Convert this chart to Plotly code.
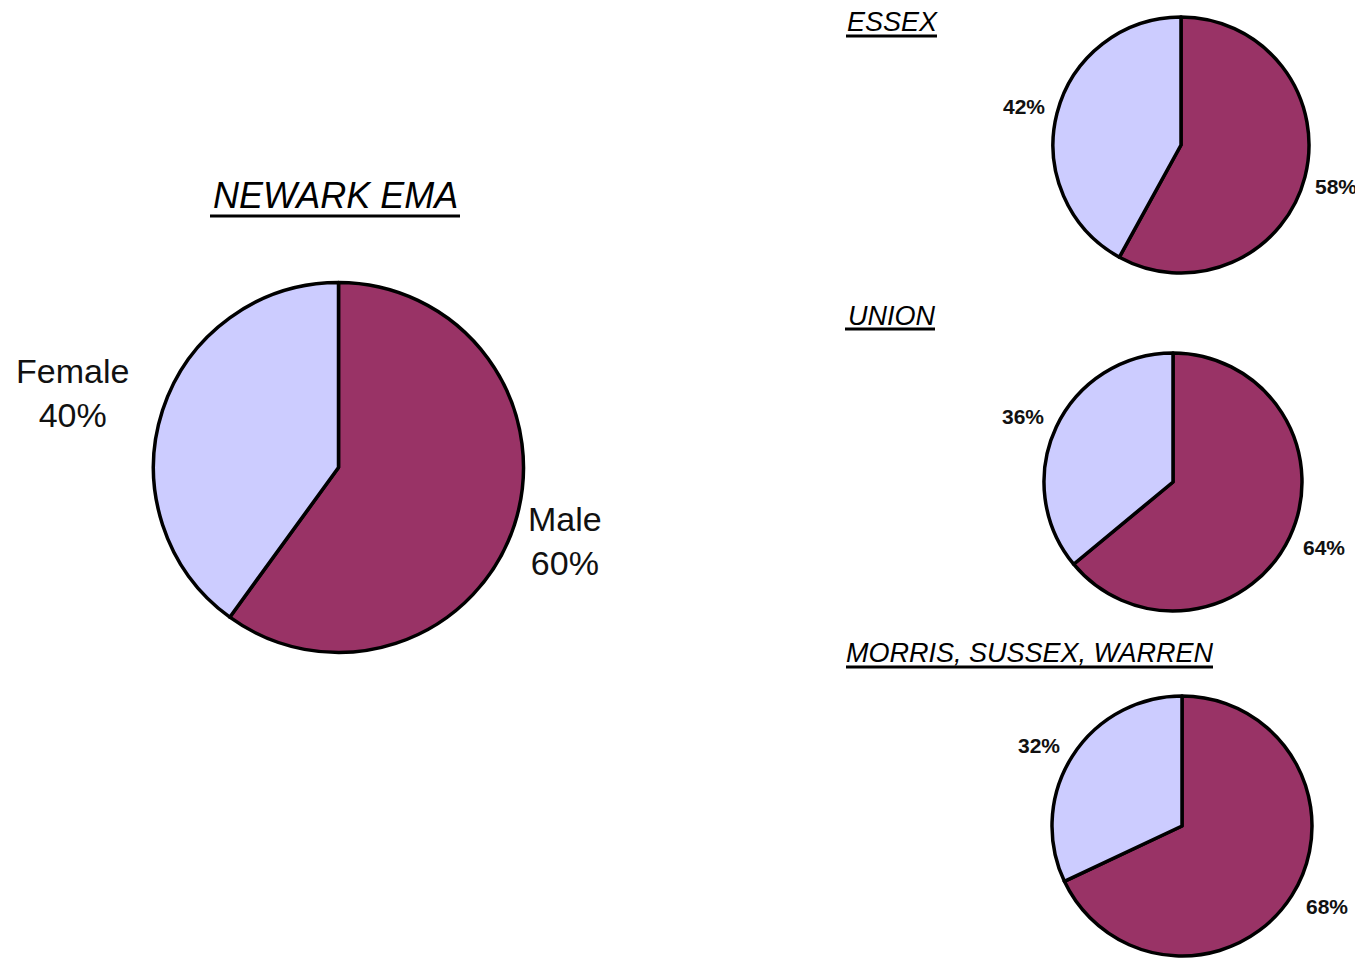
import plotly.graph_objects as go

W, H = 1363, 958
PAGE_MARGIN = 8  # default body margin of the html page
FW, FH = W - PAGE_MARGIN, H - PAGE_MARGIN

# ---- data ----
labels = ["Male", "Female"]
newark = [60, 40]
essex = [58, 42]
union = [64, 36]
msw = [68, 32]
region_titles = ["NEWARK EMA", "ESSEX", "UNION", "MORRIS, SUSSEX, WARREN"]

colors = ["#993366", "#CCCCFF"]
LW = 3.5

def px_x(x):
    return (x - PAGE_MARGIN) / FW

def px_y(y):
    return 1 - (y - PAGE_MARGIN) / FH

def domain(cx, cy, r):
    return dict(x=[px_x(cx - r), px_x(cx + r)],
                y=[max(0.0, px_y(cy + r)), min(1.0, px_y(cy - r))])

fig = go.Figure()

pies = [
    (newark, 338.5, 467.5, 185),
    (essex, 1181, 145, 128),
    (union, 1173, 482, 129),
    (msw, 1182, 826, 130),
]
for vals, cx, cy, r in pies:
    fig.add_trace(go.Pie(
        labels=labels, values=vals, sort=False, direction="clockwise", rotation=0,
        marker=dict(colors=colors, line=dict(color="#000000", width=LW)),
        textinfo="none", hoverinfo="label+percent", showlegend=False,
        domain=domain(cx, cy, r),
    ))

FONT = "Liberation Sans, Arial, sans-serif"
ann = []

# main labels
ann.append(dict(x=px_x(72), y=px_y(393), text=f"{labels[1]}<br>{newark[1]}%",
                font=dict(size=34, family=FONT, color="#111")))
ann.append(dict(x=px_x(565), y=px_y(541), text=f"{labels[0]}<br>{newark[0]}%",
                font=dict(size=34, family=FONT, color="#111")))

# small labels
small = [
    (essex[1], 1024, 106), (essex[0], 1336, 186),
    (union[1], 1023, 416), (union[0], 1324, 547),
    (msw[1], 1039, 745), (msw[0], 1327, 906),
]
for v, x, y in small:
    ann.append(dict(x=px_x(x), y=px_y(y), text=f"<b>{v}%</b>",
                    font=dict(size=21, family=FONT, color="#111")))

# titles
titles = [
    (region_titles[0], 335, 195, 36, 210, 460, 216, 3),
    (region_titles[1], 892, 22, 27, 846, 937, 36, 3),
    (region_titles[2], 892, 316, 27, 845, 935, 329, 3),
    (region_titles[3], 1030, 653, 27, 846, 1213, 667, 3),
]
shapes = []
for t, x, y, fs, x0, x1, uy, lw in titles:
    ann.append(dict(x=px_x(x), y=px_y(y), text=f"<i>{t}</i>",
                    font=dict(size=fs, family=FONT, color="#000")))
    shapes.append(dict(type="line", xref="paper", yref="paper",
                       x0=px_x(x0), x1=px_x(x1), y0=px_y(uy), y1=px_y(uy),
                       line=dict(color="#000", width=lw)))

for a in ann:
    a.update(xref="paper", yref="paper", showarrow=False, xanchor="center", yanchor="middle")

fig.update_layout(
    width=FW, height=FH,
    margin=dict(l=0, r=0, t=0, b=0),
    paper_bgcolor="white", plot_bgcolor="white",
    annotations=ann, shapes=shapes,
)

fig.write_html("out.html")
